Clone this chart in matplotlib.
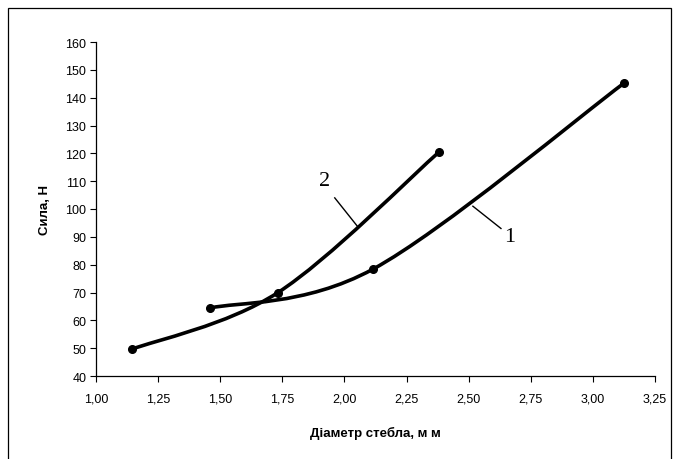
import matplotlib
matplotlib.use("Agg")
import matplotlib.pyplot as plt
from matplotlib.path import Path
from matplotlib.patches import PathPatch, Rectangle
import numpy as np

# curve 1 (ends at 145 N)
d1 = [1.459, 2.115, 3.125]
f1 = [64.4, 78.4, 145.2]
# curve 2 (ends at 120 N)
d2 = [1.144, 1.731, 2.381]
f2 = [49.6, 69.9, 120.5]

x_ticks = [1.00, 1.25, 1.50, 1.75, 2.00, 2.25, 2.50, 2.75, 3.00, 3.25]
y_ticks = list(range(40, 161, 10))


def smooth_path(xs, ys):
    # Excel style smoothed line: cubic bezier through the points
    p = np.column_stack([xs, ys])
    ext = np.vstack([p[0], p, p[-1]])
    verts = [tuple(p[0])]
    codes = [Path.MOVETO]
    for i in range(len(p) - 1):
        p0, p1, p2, p3 = ext[i], ext[i + 1], ext[i + 2], ext[i + 3]
        c1 = p1 + (p2 - p0) / 6.0
        c2 = p2 - (p3 - p1) / 6.0
        verts += [tuple(c1), tuple(c2), tuple(p2)]
        codes += [Path.CURVE4] * 3
    return Path(verts, codes)


plt.rcParams['font.family'] = ['Liberation Sans', 'DejaVu Sans']

fig = plt.figure(figsize=(6.77, 4.6), dpi=100)
ax = fig.add_axes([96 / 677, 1 - 377 / 460, (655 - 96) / 677, (377 - 43) / 460])

for xs, ys in [(d1, f1), (d2, f2)]:
    ax.add_patch(PathPatch(smooth_path(xs, ys), fill=False, lw=2.6,
                           edgecolor='black', capstyle='round'))
    ax.plot(xs, ys, 'o', color='black', markersize=5.5)

ax.set_xlim(1.0, 3.25)
ax.set_ylim(40, 160)
ax.set_xticks(x_ticks)
ax.set_yticks(y_ticks)
ax.set_xticklabels([f"{v:.2f}".replace('.', ',') for v in x_ticks])
ax.set_yticklabels([str(v) for v in y_ticks])
ax.tick_params(direction='out', length=4, width=0.8, labelsize=9, pad=3)
ax.tick_params(axis='x', pad=8)
for s in ['top', 'right']:
    ax.spines[s].set_visible(False)
for s in ['left', 'bottom']:
    ax.spines[s].set_linewidth(0.9)

ax.set_xlabel('Діаметр стебла, м м', fontsize=9.5, fontweight='bold', labelpad=15)
ax.set_ylabel('Сила, Н', fontsize=9.5, fontweight='bold', labelpad=10)

# curve labels with leader lines
ax.plot([1.961, 2.053], [104.0, 93.7], color='black', lw=1.0)
ax.text(1.921, 110.2, '2', fontsize=16, family='Liberation Serif',
        ha='center', va='center')
ax.plot([2.517, 2.630], [101.0, 93.0], color='black', lw=1.0)
ax.text(2.664, 90.2, '1', fontsize=16, family='Liberation Serif',
        ha='center', va='center')

fig.patches.append(Rectangle((8 / 677, -0.05), (671 - 8) / 677, 1.05 - 9 / 460,
                             transform=fig.transFigure, fill=False,
                             edgecolor='black', lw=0.9))

fig.savefig('out.png', dpi=100)
